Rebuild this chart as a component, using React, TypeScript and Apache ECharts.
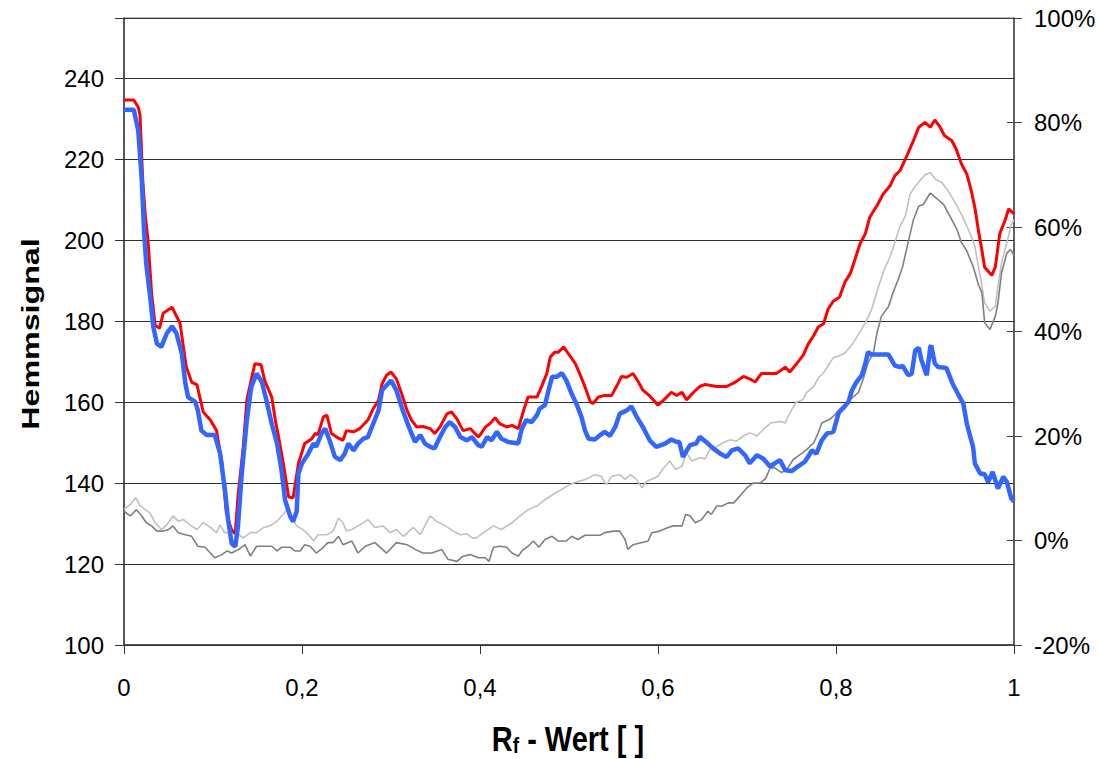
import React, { useEffect, useRef } from "react";
import * as echarts from "echarts";

const xTicks = [0, 0.2, 0.4, 0.6, 0.8, 1];
const leftTicks = [100, 120, 140, 160, 180, 200, 220, 240];
const rightTicks = [-20, 0, 20, 40, 60, 80, 100];
const yTitle = "Hemmsignal";
const xTitle = "R{sub|f} - Wert [ ]";

// Red line (left axis, Hemmsignal)
const redSeries: [number, number][] = [
  [0, 234.7], [0.011, 234.7], [0.016, 233], [0.018, 231], [0.021, 215], [0.024, 206], [0.027, 200], [0.031, 187],
  [0.035, 179], [0.040, 178.3], [0.044, 182], [0.054, 183.5], [0.063, 179.5], [0.070, 168.7], [0.076, 165],
  [0.082, 164.3], [0.089, 157.6], [0.097, 155.6], [0.104, 153], [0.110, 145], [0.115, 132.6], [0.121, 128.4],
  [0.125, 127.5], [0.128, 136.6], [0.134, 149], [0.138, 160.5], [0.142, 164.6], [0.147, 169.5], [0.154, 169.3],
  [0.158, 165.4], [0.166, 161.3], [0.170, 155.6], [0.173, 152.3], [0.179, 144.9], [0.185, 136.6], [0.190, 136.4],
  [0.196, 144.9], [0.203, 149.8], [0.211, 151], [0.215, 152.3], [0.218, 152], [0.224, 156.4], [0.228, 156.8],
  [0.233, 152.3], [0.239, 151.4], [0.246, 150.6], [0.250, 153], [0.258, 152.7], [0.265, 153.5], [0.274, 155.6],
  [0.280, 158.4], [0.286, 160.5], [0.290, 164.6], [0.295, 166.7], [0.300, 167.5], [0.306, 165.8], [0.312, 162.1],
  [0.318, 158], [0.323, 155.6], [0.329, 153.9], [0.336, 154], [0.344, 153.5], [0.349, 152.3], [0.355, 153.9],
  [0.363, 157.2], [0.368, 157.6], [0.374, 155.9], [0.381, 153], [0.389, 153.5], [0.398, 151.4], [0.400, 151.9],
  [0.406, 153.9], [0.411, 154.7], [0.417, 156.2], [0.422, 154.7], [0.430, 153.9], [0.436, 154.3], [0.443, 153.5],
  [0.449, 158], [0.454, 161.3], [0.464, 161.3], [0.469, 163.8], [0.475, 167.1], [0.479, 171.2], [0.484, 172.4],
  [0.488, 172.4], [0.494, 173.7], [0.499, 172.1], [0.507, 169.6], [0.512, 167.1], [0.518, 163.8], [0.524, 160.1],
  [0.527, 159.7], [0.533, 161.3], [0.540, 161.7], [0.548, 161.7], [0.554, 164.2], [0.559, 166.4], [0.565, 166.2],
  [0.572, 167.1], [0.578, 165], [0.583, 163], [0.591, 161.5], [0.600, 159.3], [0.608, 160.9], [0.615, 162.5],
  [0.621, 161.7], [0.627, 162.5], [0.632, 160.6], [0.640, 162.5], [0.647, 163.9], [0.653, 164.4], [0.666, 163.9],
  [0.677, 163.9], [0.687, 165], [0.696, 166.4], [0.703, 165.8], [0.709, 165], [0.716, 167.1], [0.733, 167.1],
  [0.743, 168.7], [0.748, 167.5], [0.756, 169.6], [0.763, 171.6], [0.769, 174.5], [0.775, 176.5], [0.780, 178.6],
  [0.786, 179.4], [0.791, 183], [0.797, 185], [0.804, 186], [0.810, 189.7], [0.816, 191.8], [0.821, 195.1],
  [0.827, 199.2], [0.833, 201.7], [0.838, 205.8], [0.846, 208.6], [0.853, 211.5], [0.861, 213.6], [0.866, 216],
  [0.872, 217.3], [0.879, 220.6], [0.887, 224.7], [0.893, 228], [0.900, 229.2], [0.906, 228], [0.911, 229.8],
  [0.917, 228], [0.922, 225.9], [0.930, 224.7], [0.935, 222.6], [0.941, 218.9], [0.947, 216.4], [0.952, 212.3],
  [0.956, 208.2], [0.960, 202.5], [0.964, 197.5], [0.967, 193.4], [0.975, 191.4], [0.979, 193.4], [0.984, 201.7],
  [0.990, 205], [0.994, 207.8], [1.0, 206.6],
];

// Blue line (left axis, Hemmsignal)
const blueSeries: [number, number][] = [
  [0, 232.3], [0.011, 232.3], [0.016, 227.2], [0.020, 214.8], [0.0225, 202.5], [0.025, 194.2], [0.029, 186.8],
  [0.033, 178.6], [0.037, 174.5], [0.042, 173.7], [0.048, 177], [0.054, 178.8], [0.059, 177], [0.065, 172],
  [0.069, 164.6], [0.072, 161.3], [0.080, 160.1], [0.083, 158], [0.087, 153], [0.093, 151.9], [0.102, 151.9],
  [0.108, 147.3], [0.113, 139.1], [0.117, 130.9], [0.121, 125.1], [0.125, 124.3], [0.128, 129.2], [0.132, 141.6],
  [0.138, 155.6], [0.143, 163.8], [0.149, 167.1], [0.155, 165], [0.160, 160.5], [0.166, 154.7], [0.172, 149.8],
  [0.177, 143.2], [0.181, 135.8], [0.187, 131.7], [0.190, 130.5], [0.194, 133], [0.196, 142.4], [0.200, 144.9],
  [0.207, 147.3], [0.213, 149.8], [0.216, 149], [0.222, 152.3], [0.226, 153.5], [0.231, 150.6], [0.237, 146.5],
  [0.243, 145.7], [0.248, 147.3], [0.252, 149.8], [0.258, 148.1], [0.263, 149.8], [0.269, 151], [0.274, 151.4],
  [0.280, 154.7], [0.286, 158], [0.290, 163], [0.295, 164.2], [0.300, 165.4], [0.306, 163], [0.312, 158.8],
  [0.318, 155.1], [0.323, 152.3], [0.327, 150.2], [0.333, 151.9], [0.338, 149.8], [0.344, 149], [0.349, 148.6],
  [0.355, 151.4], [0.361, 153.9], [0.366, 155.1], [0.372, 153.9], [0.378, 151.4], [0.385, 150.6], [0.391, 151.4],
  [0.398, 149.4], [0.402, 149], [0.408, 151.4], [0.413, 150.6], [0.419, 152.7], [0.424, 151], [0.432, 150.2],
  [0.443, 149.8], [0.447, 153.5], [0.452, 155.6], [0.458, 155.1], [0.464, 156.8], [0.467, 158.4], [0.473, 159.3],
  [0.477, 163], [0.481, 166.3], [0.486, 166.3], [0.492, 167.2], [0.497, 165.4], [0.503, 162.1], [0.509, 159.3],
  [0.514, 156.4], [0.518, 153], [0.522, 151], [0.529, 150.8], [0.535, 151.9], [0.540, 152.7], [0.546, 151.7],
  [0.552, 153.9], [0.557, 157.2], [0.565, 158], [0.570, 159], [0.576, 156.4], [0.583, 153.9], [0.591, 150.5],
  [0.598, 149], [0.608, 149.8], [0.615, 150.8], [0.621, 150.2], [0.624, 150.2], [0.628, 146.5], [0.636, 149.4],
  [0.643, 149.8], [0.647, 151.5], [0.654, 150.2], [0.662, 148.6], [0.670, 147.3], [0.677, 146.5], [0.683, 148.1],
  [0.690, 148.6], [0.698, 146.9], [0.703, 144.9], [0.711, 146.9], [0.718, 146.1], [0.726, 144.1], [0.731, 144.9],
  [0.737, 145.7], [0.743, 143.2], [0.750, 143], [0.757, 144.1], [0.765, 145.3], [0.773, 148.1], [0.778, 147.3],
  [0.784, 150.6], [0.790, 152.3], [0.797, 152.7], [0.803, 157.4], [0.809, 158.8], [0.814, 160.1], [0.818, 163],
  [0.823, 165], [0.829, 166.7], [0.833, 169.6], [0.836, 172.4], [0.840, 171.8], [0.859, 171.8], [0.866, 169.1],
  [0.872, 168.7], [0.875, 169], [0.881, 166.7], [0.885, 167], [0.889, 172.8], [0.893, 173.5], [0.896, 170.4],
  [0.902, 166.7], [0.906, 173.7], [0.907, 174], [0.911, 169.6], [0.915, 168.7], [0.924, 168.5], [0.931, 164.6],
  [0.937, 162.1], [0.943, 159.7], [0.947, 154.7], [0.951, 151.4], [0.954, 149], [0.956, 144.9], [0.962, 142.4],
  [0.967, 142.2], [0.971, 140.3], [0.976, 142.8], [0.982, 138.7], [0.988, 141.6], [0.992, 140.3], [0.997, 136.2],
  [1.0, 135.5],
];

// Light grey line (right axis, %)
const lightGreySeries: [number, number][] = [
  [0, 5.9], [0.007, 6.9], [0.013, 8.2], [0.018, 6.7], [0.024, 5.9], [0.029, 5.3], [0.035, 3.4], [0.042, 2.1],
  [0.048, 3.0], [0.055, 4.7], [0.061, 3.7], [0.067, 4.0], [0.074, 3.0], [0.082, 2.1], [0.089, 3.4], [0.097, 2.5],
  [0.104, 1.5], [0.108, 3.0], [0.113, 1.5], [0.121, 1.5], [0.129, 1.1], [0.134, 0.5], [0.142, 1.5], [0.149, 1.5],
  [0.157, 2.5], [0.164, 2.8], [0.172, 3.7], [0.177, 4.7], [0.183, 5.9], [0.190, 4.0], [0.194, 2.8], [0.201, 2.1],
  [0.209, 0.8], [0.213, -0.1], [0.218, 1.1], [0.228, 1.1], [0.235, 1.8], [0.241, 4.3], [0.246, 3.4], [0.250, 1.8],
  [0.256, 2.1], [0.265, 3.0], [0.274, 4.0], [0.282, 2.5], [0.291, 2.8], [0.299, 1.5], [0.306, 2.1], [0.314, 0.8],
  [0.325, 2.5], [0.333, 1.1], [0.338, 2.8], [0.344, 4.7], [0.351, 3.7], [0.361, 2.8], [0.370, 1.8], [0.378, 1.1],
  [0.385, 1.3], [0.391, 0.5], [0.396, 0.5], [0.404, 1.5], [0.415, 2.8], [0.424, 2.1], [0.436, 3.4], [0.445, 4.7],
  [0.454, 5.9], [0.464, 6.6], [0.473, 7.8], [0.482, 8.8], [0.492, 9.8], [0.501, 10.7], [0.510, 11.3], [0.519, 11.7],
  [0.529, 12.6], [0.536, 12.3], [0.542, 10.7], [0.548, 12.3], [0.557, 12.6], [0.563, 11.7], [0.569, 12.6],
  [0.576, 11.7], [0.582, 10.1], [0.587, 11.3], [0.595, 11.9], [0.600, 12.3], [0.605, 13.6], [0.613, 15.2],
  [0.620, 13.6], [0.627, 14.2], [0.632, 16.8], [0.638, 15.2], [0.647, 15.9], [0.653, 15.6], [0.658, 17.4],
  [0.666, 18], [0.673, 18.7], [0.681, 19.3], [0.688, 19], [0.696, 20], [0.703, 20.6], [0.711, 20], [0.718, 21.2],
  [0.727, 22.5], [0.737, 22.8], [0.743, 22.5], [0.748, 24.4], [0.755, 26.4], [0.763, 27], [0.767, 28.3],
  [0.775, 29.5], [0.780, 31.1], [0.786, 32.1], [0.791, 33.4], [0.797, 35], [0.803, 35.3], [0.810, 35.9],
  [0.818, 37.5], [0.825, 39.4], [0.833, 41.7], [0.840, 44.2], [0.848, 48.7], [0.855, 52.2], [0.861, 54.4],
  [0.866, 57], [0.872, 60.2], [0.878, 62.1], [0.883, 66.2], [0.889, 67.8], [0.894, 68.8], [0.900, 70],
  [0.906, 70.4], [0.912, 69.1], [0.919, 68.5], [0.926, 66.9], [0.934, 64.6], [0.941, 62.4], [0.947, 60.2],
  [0.952, 58.2], [0.956, 56.3], [0.960, 52.5], [0.964, 48.7], [0.967, 45.5], [0.973, 43.9], [0.979, 44.8],
  [0.982, 48.7], [0.986, 53.1], [0.992, 57], [0.997, 60.5], [1.0, 61.4],
];

// Dark grey line (right axis, %)
const darkGreySeries: [number, number][] = [
  [0, 5.6], [0.007, 4.7], [0.014, 5.9], [0.020, 4.7], [0.025, 3.4], [0.031, 2.8], [0.037, 1.8], [0.044, 1.8],
  [0.050, 2.1], [0.055, 2.8], [0.061, 1.5], [0.069, 1.1], [0.076, 0.8], [0.083, -1.1], [0.091, -1.3], [0.097, -2.4],
  [0.102, -3.3], [0.110, -2.7], [0.116, -2.0], [0.121, -2.4], [0.129, -1.7], [0.136, -0.8], [0.142, -3.0],
  [0.149, -1.1], [0.166, -1.1], [0.172, -2.0], [0.177, -1.3], [0.187, -1.3], [0.192, -2.0], [0.198, -2.0],
  [0.203, -0.8], [0.209, -1.1], [0.216, -2.4], [0.224, -1.3], [0.229, -0.4], [0.235, -0.4], [0.241, 0.8],
  [0.246, -0.8], [0.256, -0.1], [0.263, -2.4], [0.271, -1.1], [0.282, -0.4], [0.295, -2.4], [0.306, -0.4],
  [0.318, -0.8], [0.327, -1.7], [0.336, -2.4], [0.346, -2.4], [0.357, -1.7], [0.364, -3.6], [0.374, -4.0],
  [0.381, -3.0], [0.389, -2.7], [0.398, -3.3], [0.406, -3.3], [0.410, -4.0], [0.415, -1.3], [0.422, -1.1],
  [0.430, -1.3], [0.436, -2.4], [0.443, -3.0], [0.447, -2.0], [0.454, -1.1], [0.460, -0.1], [0.466, -1.3],
  [0.473, 0.2], [0.481, 0.8], [0.488, -0.1], [0.497, -0.1], [0.503, 0.8], [0.510, 0.2], [0.518, 1.0], [0.535, 1.0],
  [0.540, 1.5], [0.550, 1.8], [0.557, 1.8], [0.563, 0.2], [0.566, -1.7], [0.572, -0.8], [0.582, -0.4],
  [0.589, -0.1], [0.593, 1.5], [0.602, 1.8], [0.610, 2.4], [0.617, 2.8], [0.627, 2.8], [0.631, 5.0], [0.636, 4.7],
  [0.642, 3.4], [0.649, 4.0], [0.656, 5.6], [0.660, 5.0], [0.666, 6.6], [0.672, 6.6], [0.679, 7.2], [0.685, 7.2],
  [0.692, 8.5], [0.700, 10.1], [0.707, 11.0], [0.715, 11.0], [0.721, 11.9], [0.726, 13.9], [0.731, 13.9],
  [0.739, 13.0], [0.746, 13.9], [0.752, 15.5], [0.760, 16.5], [0.767, 17.4], [0.775, 18.7], [0.780, 20.6],
  [0.784, 22.5], [0.793, 23.2], [0.799, 24.1], [0.804, 25.1], [0.810, 26], [0.816, 27], [0.825, 28.3],
  [0.831, 31.1], [0.836, 34], [0.842, 35.9], [0.846, 39.7], [0.851, 42.9], [0.859, 44.8], [0.864, 47.4],
  [0.870, 50], [0.875, 52.5], [0.881, 57], [0.887, 61.4], [0.893, 64], [0.898, 64.3], [0.906, 66.5],
  [0.913, 65.5], [0.921, 64.3], [0.928, 62.1], [0.936, 59.5], [0.941, 57], [0.947, 55.4], [0.954, 52.5],
  [0.960, 49], [0.964, 47.4], [0.967, 41.7], [0.973, 40.4], [0.979, 42.9], [0.982, 45.5], [0.986, 51.2],
  [0.992, 55], [0.996, 55.7], [1.0, 54.6],
];

const FONT = "'Liberation Sans', Arial, sans-serif";

export default function App() {
  const ref = useRef<HTMLDivElement>(null);

  useEffect(() => {
    if (!ref.current) return;
    const chart = echarts.init(ref.current, undefined, { renderer: "svg" });
    const fmtX = (v: number) => String(Math.round(v * 10) / 10).replace(".", ",");
    chart.setOption({
      animation: false,
      backgroundColor: "#ffffff",
      textStyle: { fontFamily: FONT },
      grid: {
        left: 124,
        right: 85,
        top: 18,
        bottom: 114,
        show: true,
        borderColor: "#808080",
        borderWidth: 1,
        backgroundColor: "transparent",
      },
      graphic: [
        {
          type: "text",
          x: 31,
          y: 334,
          rotation: Math.PI / 2,
          scaleX: 1.4,
          style: {
            text: yTitle,
            fontFamily: FONT,
            fontSize: 23,
            fontWeight: "bold",
            fill: "#000",
            align: "center",
            verticalAlign: "middle",
          },
        },
        {
          type: "text",
          x: 568,
          y: 739,
          scaleY: 1.18,
          style: {
            text: xTitle,
            fontFamily: FONT,
            fontSize: 29,
            fontWeight: "bold",
            fill: "#000",
            align: "center",
            verticalAlign: "middle",
            rich: {
              sub: {
                fontFamily: FONT,
                fontSize: 19,
                fontWeight: "bold",
                fill: "#000",
                verticalAlign: "bottom",
                padding: [10, 0, 0, 0],
              },
            },
          },
        },
      ],
      xAxis: {
        type: "value",
        min: xTicks[0],
        max: xTicks[xTicks.length - 1],
        interval: 0.2,
        axisLine: { show: true, onZero: false, lineStyle: { color: "#333", width: 1.5 } },
        axisTick: { show: true, length: 9, lineStyle: { color: "#333" } },
        axisLabel: { formatter: fmtX, fontSize: 24, color: "#000", margin: 30, fontFamily: FONT },
        splitLine: { show: false },
      },
      yAxis: [
        {
          type: "value",
          position: "left",
          min: leftTicks[0],
          max: 255,
          interval: 20,
          axisLine: { show: true, onZero: false, lineStyle: { color: "#333", width: 1.5 } },
          axisTick: { show: true, length: 9, lineStyle: { color: "#333" } },
          axisLabel: {
            fontSize: 24,
            color: "#000",
            margin: 20,
            fontFamily: FONT,
            formatter: (v: number) => (leftTicks.indexOf(v) >= 0 ? String(v) : ""),
          },
          splitLine: { show: true, lineStyle: { color: "#303030", width: 1 } },
        },
        {
          type: "value",
          position: "right",
          min: rightTicks[0],
          max: rightTicks[rightTicks.length - 1],
          interval: 20,
          axisLine: { show: true, onZero: false, lineStyle: { color: "#404040", width: 1.5 } },
          axisTick: { show: true, length: 8, lineStyle: { color: "#404040" } },
          axisLabel: { fontSize: 24, color: "#000", margin: 20, fontFamily: FONT, formatter: "{value}%" },
          splitLine: { show: false },
        },
        {
          type: "value",
          position: "right",
          min: rightTicks[0],
          max: rightTicks[rightTicks.length - 1],
          interval: 20,
          axisLine: { show: false, onZero: false },
          axisTick: { show: true, inside: true, length: 7, lineStyle: { color: "#404040" } },
          axisLabel: { show: false },
          splitLine: { show: false },
        },
      ],
      series: [
        {
          type: "line",
          name: "hell",
          yAxisIndex: 1,
          data: lightGreySeries,
          showSymbol: false,
          lineStyle: { color: "#c0c0c0", width: 1.6 },
          z: 2,
        },
        {
          type: "line",
          name: "dunkel",
          yAxisIndex: 1,
          data: darkGreySeries,
          showSymbol: false,
          lineStyle: { color: "#808080", width: 1.6 },
          z: 3,
        },
        {
          type: "line",
          name: "rot",
          yAxisIndex: 0,
          data: redSeries,
          showSymbol: false,
          lineStyle: { color: "#ff0000", width: 3 },
          z: 4,
        },
        {
          type: "line",
          name: "blau",
          yAxisIndex: 0,
          data: blueSeries,
          showSymbol: false,
          lineStyle: { color: "#3366ff", width: 4.5 },
          z: 5,
        },
      ],
    });
    return () => chart.dispose();
  }, []);

  return (
    <div
      ref={ref}
      style={{ position: "absolute", left: 0, top: 0, width: 1099, height: 759 }}
    />
  );
}
